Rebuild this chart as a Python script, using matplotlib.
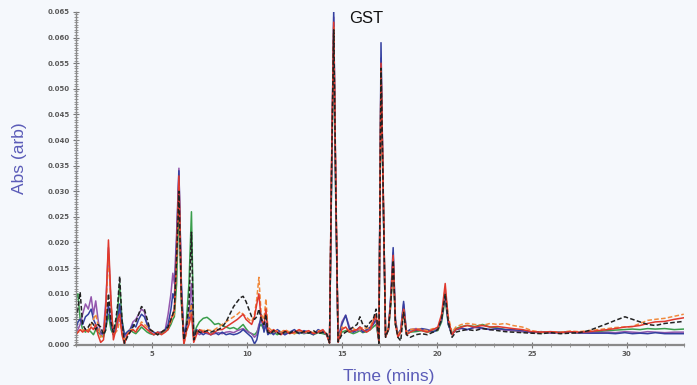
import numpy as np
import matplotlib
matplotlib.use('Agg')
import matplotlib.pyplot as plt
from matplotlib.ticker import MultipleLocator, FormatStrFormatter

# retention time grid (mins), shared by every run
time_min = [
    1.0, 1.1, 1.22, 1.35, 1.5, 1.65, 1.8, 1.92, 2.04, 2.16,
    2.3, 2.45, 2.58, 2.71, 2.84, 2.97, 3.1, 3.2, 3.3, 3.42,
    3.55, 3.7, 3.85, 4.0, 4.15, 4.3, 4.45, 4.6, 4.75, 4.9,
    5.1, 5.3, 5.5, 5.7, 5.85, 6.0, 6.1, 6.18, 6.3, 6.42,
    6.55, 6.68, 6.8, 6.95, 7.08, 7.2, 7.35, 7.5, 7.7, 7.9,
    8.1, 8.3, 8.5, 8.7, 8.9, 9.1, 9.3, 9.5, 9.65, 9.8,
    9.95, 10.1, 10.25, 10.4, 10.52, 10.63, 10.75, 10.9, 11.0, 11.1,
    11.25, 11.4, 11.6, 11.8, 12.0, 12.25, 12.5, 12.75, 13.0, 13.25,
    13.5, 13.75, 14.0, 14.2, 14.35, 14.45, 14.57, 14.68, 14.8, 15.0,
    15.2, 15.4, 15.6, 15.8, 15.95, 16.1, 16.3, 16.5, 16.65, 16.8,
    16.95, 17.06, 17.18, 17.3, 17.45, 17.58, 17.7, 17.82, 17.95, 18.1,
    18.25, 18.4, 18.6, 18.9, 19.2, 19.5, 19.8, 20.05, 20.25, 20.44,
    20.6, 20.8, 21.0, 21.3, 21.6, 22.0, 22.4, 22.8, 23.2, 23.6,
    24.0, 24.5, 25.0, 25.5, 26.0, 26.5, 27.0, 27.5, 28.0, 28.5,
    29.0, 29.4, 29.9, 30.3, 30.7, 31.1, 31.5, 32.0, 32.5, 33.0,
]

# absorbance of each run, in units of 1e-3 arb
blue_abs = [
    3.0, 4.5, 5.0, 4.0, 5.5, 6.0, 7.0, 5.0, 4.0, 3.0,
    2.5, 2.0, 4.0, 8.0, 4.0, 2.0, 3.5, 5.0, 8.0, 4.5,
    2.0, 2.5, 3.0, 4.0, 3.5, 5.0, 6.0, 5.5, 4.0, 3.0,
    2.5, 2.0, 2.5, 3.0, 4.0, 7.0, 10.0, 9.0, 20.0, 34.0,
    12.0, 2.0, 3.5, 5.0, 8.0, 1.5, 3.0, 2.5, 2.0, 2.5,
    2.0, 2.5, 2.0, 2.5, 2.0, 2.2, 2.0, 2.2, 2.5, 3.0,
    2.5, 2.0, 1.5, 0.2, 1.0, 3.0, 6.0, 2.5, 4.0, 2.0,
    2.5, 2.0, 3.0, 2.5, 2.0, 2.5, 3.0, 2.2, 2.8, 2.5,
    2.0, 3.0, 2.5, 2.0, 0.8, 30.0, 65.5, 28.0, 1.0, 4.0,
    5.8, 3.0, 2.5, 3.0, 3.5, 2.5, 3.0, 3.5, 4.0, 5.0,
    1.0, 59.0, 28.0, 2.0, 3.0, 10.0, 19.0, 5.0, 2.0, 3.0,
    8.5, 2.5, 3.0, 2.8, 3.2, 3.0, 2.5, 3.0, 5.0, 10.5,
    4.0, 2.0, 3.0, 3.3, 3.0, 3.5, 3.3, 3.0, 3.2, 3.0,
    3.0, 2.8, 2.5, 2.6, 2.4, 2.5, 2.5, 2.4, 2.3, 2.3,
    2.3, 2.2, 2.4, 2.2, 2.3, 2.2, 2.4, 2.2, 2.2, 2.2,
]
red_abs = [
    2.0, 2.5, 3.0, 2.5, 3.0, 2.5, 3.5, 3.0, 4.0, 2.0,
    0.5, 1.0, 8.0, 20.5, 9.0, 1.0, 3.0, 5.0, 6.0, 2.0,
    0.2, 2.0, 2.5, 3.0, 2.5, 3.5, 4.0, 3.5, 3.0, 2.5,
    2.0, 2.5, 2.0, 2.5, 3.0, 5.0, 6.0, 7.0, 18.0, 33.0,
    10.0, 0.0, 2.5, 4.0, 6.0, 0.5, 2.0, 3.0, 2.5, 2.5,
    2.0, 2.5, 3.0, 3.0, 3.5, 4.0, 4.5, 5.0, 5.5, 6.0,
    5.0, 4.5, 4.0, 5.5, 8.0, 10.0, 5.0, 4.0, 7.0, 3.0,
    2.5, 3.0, 2.5, 2.0, 2.8, 2.2, 2.5, 3.0, 2.5, 2.8,
    2.2, 2.5, 3.0, 2.0, 0.3, 34.0, 63.0, 32.0, 0.5, 3.0,
    3.5, 2.5, 2.8, 3.0, 3.5, 3.0, 2.5, 3.0, 4.5, 6.0,
    0.5, 55.0, 30.0, 1.5, 3.0, 9.0, 17.5, 4.0, 1.5, 2.5,
    7.0, 2.0, 2.5, 3.0, 2.8, 2.5, 3.0, 3.5, 6.0, 12.0,
    5.0, 2.0, 3.0, 3.5, 3.8, 3.5, 3.8, 3.5, 3.6, 3.4,
    3.2, 3.0, 2.6, 2.5, 2.6, 2.4, 2.6, 2.5, 2.6, 2.8,
    3.0, 3.2, 3.5, 3.6, 3.8, 4.2, 4.5, 4.6, 5.0, 5.3,
]
orange_abs = [
    2.0, 2.5, 2.5, 3.0, 2.5, 3.0, 4.0, 5.0, 6.0, 4.0,
    1.5, 2.0, 7.0, 18.0, 8.0, 2.0, 2.5, 3.0, 5.0, 2.5,
    1.0, 2.0, 3.0, 3.0, 2.8, 3.5, 4.5, 4.0, 3.5, 3.0,
    2.5, 2.0, 2.5, 3.0, 3.2, 4.5, 5.5, 6.0, 16.0, 31.0,
    9.0, 0.3, 2.0, 5.0, 8.0, 1.0, 2.5, 3.0, 2.8, 3.0,
    2.8, 3.0, 3.5, 4.0, 4.5, 5.0, 5.5, 6.0, 6.5, 6.0,
    5.5, 5.0, 4.5, 6.0, 9.0, 13.2, 6.0, 5.0, 9.0, 3.5,
    3.0, 2.5, 2.8, 2.5, 3.0, 2.5, 2.2, 2.8, 2.5, 2.6,
    2.4, 2.8, 2.5, 2.2, 0.5, 33.0, 62.0, 30.0, 0.8, 3.5,
    3.0, 2.8, 3.2, 2.8, 3.0, 3.5, 3.2, 3.5, 5.0, 5.5,
    0.8, 54.0, 29.0, 2.0, 3.5, 8.5, 17.0, 4.5, 2.0, 2.8,
    7.0, 2.5, 3.0, 3.2, 3.0, 2.8, 3.2, 3.0, 5.5, 11.0,
    5.5, 2.5, 3.5, 4.0, 4.2, 4.0, 3.8, 4.2, 4.0, 4.2,
    3.8, 3.5, 2.8, 2.5, 2.6, 2.5, 2.7, 2.6, 2.8, 3.0,
    3.2, 3.4, 3.5, 3.6, 4.2, 4.8, 5.0, 5.2, 5.6, 6.0,
]
green_abs = [
    9.0, 10.0, 5.0, 3.0, 2.5, 3.0, 2.5, 2.0, 3.0, 2.5,
    2.0, 1.5, 3.5, 6.0, 3.0, 2.0, 4.0, 7.0, 12.0, 5.0,
    2.0, 2.5, 3.0, 2.5, 2.2, 2.8, 3.5, 3.0, 2.5, 2.2,
    2.0, 2.5, 2.2, 2.8, 3.0, 4.0, 5.0, 5.5, 12.0, 28.0,
    8.0, 1.5, 4.0, 12.0, 26.0, 2.0, 3.5, 4.5, 5.2, 5.4,
    4.8, 4.0, 4.2, 3.8, 3.5, 3.2, 3.4, 3.0, 3.5, 4.0,
    3.2, 2.5, 2.2, 2.0, 2.5, 3.5, 4.0, 3.0, 4.0, 2.5,
    2.2, 2.5, 2.0, 2.4, 2.2, 2.6, 2.2, 2.5, 2.2, 2.4,
    2.0, 2.4, 2.2, 2.0, 0.6, 30.0, 60.0, 28.0, 1.2, 2.5,
    2.8, 2.5, 2.2, 2.5, 2.8, 2.4, 2.6, 3.0, 3.5, 4.0,
    0.8, 53.0, 27.0, 2.0, 2.8, 8.0, 16.0, 4.0, 2.2, 2.5,
    6.5, 2.2, 2.5, 2.6, 2.8, 2.5, 2.7, 2.8, 4.5, 9.0,
    4.0, 2.2, 3.2, 3.6, 3.8, 3.6, 4.0, 3.5, 3.3, 3.0,
    2.8, 2.6, 2.5, 2.4, 2.5, 2.4, 2.5, 2.3, 2.5, 2.6,
    2.8, 2.9, 3.0, 3.1, 3.0, 3.2, 3.1, 3.2, 3.0, 3.1,
]
black_abs = [
    5.0, 7.0, 10.3, 4.0, 3.0, 3.5, 4.5, 4.0, 3.0, 4.0,
    3.5, 2.0, 3.0, 10.0, 4.5, 2.5, 5.0, 8.0, 13.4, 5.0,
    0.3, 1.5, 2.5, 3.5, 4.5, 6.0, 7.5, 7.0, 5.0, 3.0,
    2.5, 2.0, 2.5, 3.0, 3.5, 5.0, 6.0, 7.0, 17.0, 30.0,
    9.0, 1.0, 3.0, 8.0, 22.0, 1.0, 3.0, 2.5, 2.5, 2.8,
    2.5, 2.8, 3.0, 3.5, 4.5, 6.0, 7.5, 8.5, 9.2, 9.5,
    8.5, 7.0, 5.5, 5.0, 5.5, 7.0, 5.0, 4.0, 6.0, 2.5,
    2.2, 2.8, 2.4, 2.0, 2.6, 2.3, 2.8, 2.2, 2.6, 2.3,
    2.8, 2.2, 2.5, 2.2, 0.4, 32.0, 61.5, 30.0, 0.6, 2.0,
    2.5, 3.0, 3.5, 4.0, 5.5, 4.0, 3.5, 4.5, 5.0, 7.0,
    0.3, 54.0, 29.0, 1.5, 3.0, 8.5, 16.5, 4.0, 1.5, 0.8,
    6.5, 2.0, 1.5, 2.0, 2.2, 2.0, 2.5, 3.0, 5.0, 10.0,
    4.5, 1.5, 2.5, 2.8, 3.0, 2.8, 3.2, 3.0, 2.8, 2.6,
    2.5, 2.4, 2.3, 2.2, 2.4, 2.2, 2.3, 2.4, 2.8, 3.5,
    4.2, 4.8, 5.5, 5.0, 4.5, 4.0, 3.8, 4.2, 4.4, 4.6,
]
purple_abs = [
    2.5, 3.0, 4.0, 6.0, 8.0, 7.0, 9.4, 6.0, 8.6, 5.0,
    2.0, 3.0, 9.0, 19.0, 8.0, 2.0, 3.0, 4.0, 7.0, 3.0,
    1.5, 2.5, 3.0, 4.5, 5.0, 6.0, 7.0, 6.5, 4.0, 2.5,
    2.0, 2.5, 2.5, 3.0, 6.0, 10.0, 14.0, 12.0, 22.0, 34.5,
    11.0, 1.0, 4.0, 6.0, 12.0, 1.5, 2.5, 2.0, 2.5, 2.2,
    2.0, 2.2, 2.4, 2.2, 2.5, 2.6, 2.4, 2.8, 3.0, 3.2,
    2.8, 2.5, 2.2, 1.5, 2.0, 4.0, 5.0, 3.0, 4.5, 2.2,
    2.5, 2.2, 2.8, 2.4, 2.0, 2.6, 2.4, 2.7, 2.3, 2.5,
    2.2, 2.5, 2.8, 2.0, 0.5, 32.0, 64.0, 30.0, 1.0, 4.5,
    5.8, 3.5, 2.5, 2.8, 3.0, 2.6, 2.8, 3.2, 4.0, 5.0,
    0.6, 56.0, 29.0, 2.0, 3.0, 9.5, 18.0, 4.5, 2.0, 3.0,
    8.0, 2.5, 3.0, 3.2, 3.0, 2.8, 3.0, 3.2, 5.0, 10.0,
    4.5, 2.2, 3.0, 3.2, 3.0, 3.4, 3.2, 3.0, 3.1, 2.9,
    2.8, 2.6, 2.4, 2.5, 2.3, 2.4, 2.5, 2.3, 2.4, 2.4,
    2.5, 2.4, 2.6, 2.5, 2.4, 2.6, 2.5, 2.4, 2.5, 2.5,
]

# drawing order: later runs sit on top
runs = [
    (green_abs, '#3a9e4c', '-'),
    (purple_abs, '#9457ad', '-'),
    (blue_abs, '#3440a0', '-'),
    (orange_abs, '#f08a3c', '--'),
    (red_abs, '#e0392e', '-'),
    (black_abs, '#222222', '--'),
]

bg = '#f5f8fc'
label_col = '#5b5cb8'
tick_col = '#5a5a5a'

fig = plt.figure(figsize=(6.97, 3.85), dpi=100, facecolor=bg)
ax = fig.add_axes([0.109, 0.104, 0.872, 0.865], facecolor=bg)

t = np.array(time_min)
for vals, col, ls in runs:
    ax.plot(t, np.array(vals) / 1000.0, color=col, linestyle=ls, linewidth=1.1,
            dashes=(3, 1.5) if ls == '--' else (None, None))

ax.set_xlim(1, 33)
ax.set_ylim(0, 0.065)

# axis look: grey left/bottom spines, no box
for side in ['top', 'right']:
    ax.spines[side].set_visible(False)
ax.spines['left'].set_color('#8a8a8a')
ax.spines['left'].set_linewidth(1.0)
ax.spines['bottom'].set_color('#8a8a8a')
ax.spines['bottom'].set_linewidth(1.6)

ax.xaxis.set_major_locator(MultipleLocator(5))
ax.xaxis.set_minor_locator(MultipleLocator(1))
ax.yaxis.set_major_locator(MultipleLocator(0.005))
ax.yaxis.set_minor_locator(MultipleLocator(0.0005))
ax.yaxis.set_major_formatter(FormatStrFormatter('%.3f'))

ax.tick_params(axis='both', which='major', direction='inout', length=5, width=0.8,
               color='#777777', labelsize=5, labelcolor=tick_col, pad=2)
ax.tick_params(axis='both', which='minor', direction='inout', length=2.5, width=0.6,
               color='#888888')
for lbl in ax.get_xticklabels() + ax.get_yticklabels():
    lbl.set_fontweight('bold')

ax.set_ylabel('Abs (arb)', fontsize=12.5, color=label_col, family='Liberation Sans')
ax.yaxis.set_label_coords(-0.08, 0.56)
ax.set_xlabel('Time (mins)', fontsize=12.5, color=label_col, family='Liberation Sans')
ax.xaxis.set_label_coords(0.515, -0.072)

ax.text(16.3, 0.0638, 'GST', fontsize=12, color='#111111', family='Liberation Sans',
        ha='center', va='center')

plt.savefig('out.png', dpi=100, facecolor=bg)
